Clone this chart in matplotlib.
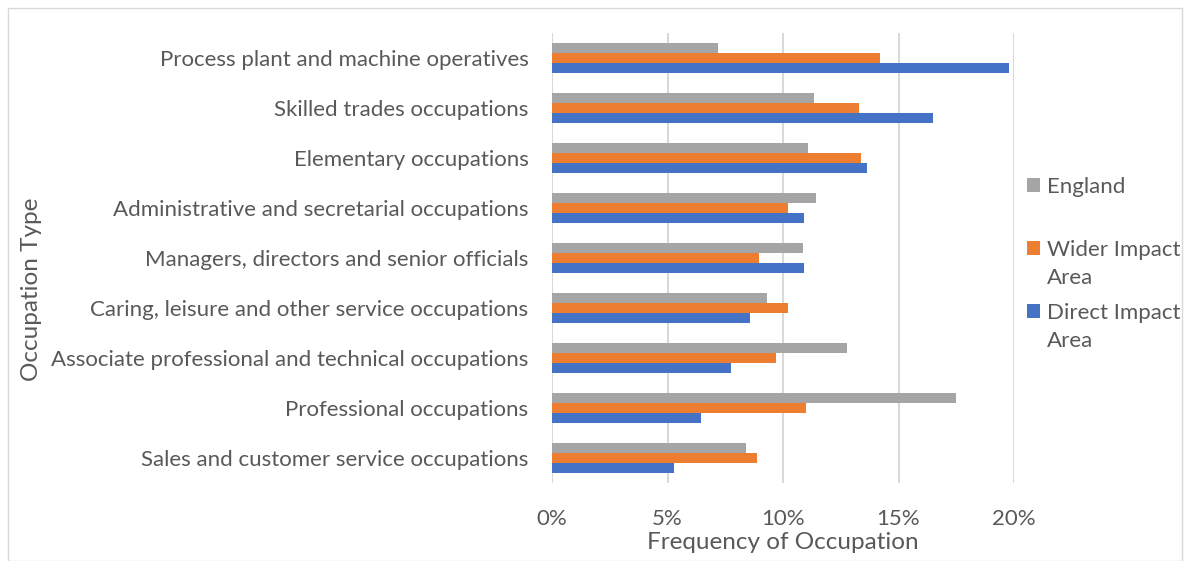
import matplotlib.pyplot as plt
import numpy as np
from matplotlib.patches import Rectangle

# categories listed bottom -> top (as drawn)
categories = [
    "Sales and customer service occupations",
    "Professional occupations",
    "Associate professional and technical occupations",
    "Caring, leisure and other service occupations",
    "Managers, directors and senior officials",
    "Administrative and secretarial occupations",
    "Elementary occupations",
    "Skilled trades occupations",
    "Process plant and machine operatives",
]
england = [8.40, 17.48, 12.77, 9.31, 10.85, 11.44, 11.08, 11.36, 7.17]
wider = [8.87, 11.01, 9.71, 10.21, 8.94, 10.23, 13.36, 13.29, 14.19]
direct = [5.26, 6.45, 7.75, 8.58, 10.92, 10.92, 13.64, 16.49, 19.78]

tick_vals = [0, 5, 10, 15, 20]
tick_labels = ["0%", "5%", "10%", "15%", "20%"]

txt = "#595959"
plt.rcParams['font.family'] = ['Lato', 'DejaVu Sans']

fig = plt.figure(figsize=(11.9, 5.61), dpi=100)
ax = fig.add_axes([552 / 1190, 1 - 483 / 561, 462 / 1190, 450 / 561])

y = np.arange(len(categories))
h = 0.2
ax.barh(y + h, england, height=h, color="#A5A5A5", label="England", zorder=3)
ax.barh(y, wider, height=h, color="#ED7D31", label="Wider Impact", zorder=3)
ax.barh(y - h, direct, height=h, color="#4472C4", label="Direct Impact", zorder=3)

ax.set_xlim(0, 20)
ax.set_ylim(-0.5, len(categories) - 0.5)
ax.set_xticks(tick_vals)
ax.set_xticklabels(tick_labels)
ax.set_yticks(y)
ax.set_yticklabels(categories)
ax.grid(axis="x", color="#D9D9D9", linewidth=1.5, zorder=0)
for s in ax.spines.values():
    s.set_visible(False)
ax.tick_params(axis="both", length=0, labelsize=16, colors=txt)
ax.tick_params(axis="y", pad=17)
ax.tick_params(axis="x", pad=19)
ax.set_xlabel("Frequency of Occupation", fontsize=17.5, color=txt, labelpad=2)
ax.set_ylabel("Occupation Type", fontsize=17.5, color=txt)
ax.yaxis.set_label_coords((42 - 552) / 462, (483 - 289) / 450)

# legend: marker sits on the first line, "Area" wraps underneath
handles, labels = ax.get_legend_handles_labels()
leg = fig.legend(handles, labels, loc="upper left", bbox_to_anchor=(1027 / 1190, 1 - 177 / 561),
                 frameon=False, fontsize=16, labelcolor=txt, handlelength=0.6, handleheight=0.6,
                 handletextpad=0.3, labelspacing=1.93, borderpad=0, borderaxespad=0)
for t in leg.get_texts()[1:]:
    ann = plt.Annotation("Area", xy=(0, 0.5), xycoords=t, xytext=(0, -28),
                         textcoords="offset pixels", ha="left", va="center",
                         fontsize=16, color=txt)
    ann.set_zorder(10)
    fig.add_artist(ann)

fig.patches.append(Rectangle((8 / 1190, 0), 1 - 16 / 1190, 1 - 8 / 561, transform=fig.transFigure,
                             fill=False, edgecolor="#D9D9D9", linewidth=1))

fig.savefig("out.png", dpi=100)
